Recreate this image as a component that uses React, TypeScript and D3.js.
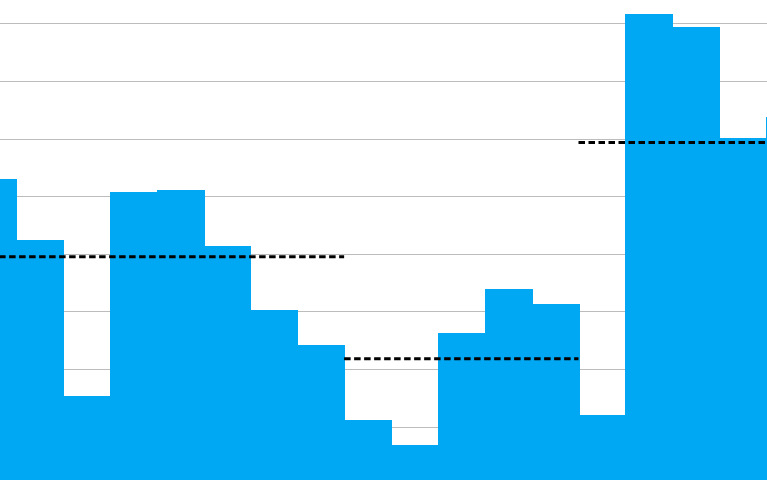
import { useEffect, useRef } from "react"
import * as d3 from "d3"

// bar heights (gridline step = 10)
const barValues = [52.9, 42.4, 15.4, 50.7, 51.0, 41.4, 30.2, 24.1, 11.1, 6.8, 26.2, 33.9, 31.25, 12.1, 81.6, 79.4, 60.1, 63.8]
// dashed group averages: [first bar, bar after last, value]
const meanFrom = [0, 8, 13]
const meanTo = [8, 13, 18]
const meanValues = [39.5, 21.8, 59.3]
const gridValues = [10, 20, 30, 40, 50, 60, 70, 80]

export default function App() {
  const svgRef = useRef<SVGSVGElement>(null)

  useEffect(() => {
    const svgEl = svgRef.current
    if (!svgEl) return
    const W = 767
    const H = 480
    const svg = d3.select(svgEl)
    svg.selectAll("*").remove()

    // the chart is cropped: first bar starts left of the frame, last one runs off the right
    const step = 46.875
    const x = d3.scaleLinear().domain([0, barValues.length]).range([-30.875, -30.875 + step * barValues.length])
    const y = d3.scaleLinear().domain([0, 80]).range([484.3, 23.3])

    svg.append("g").selectAll("line").data(gridValues).join("line")
      .attr("x1", 0).attr("x2", W)
      .attr("y1", d => Math.round(y(d)) + 0.5).attr("y2", d => Math.round(y(d)) + 0.5)
      .attr("stroke", "#bcbcbc").attr("stroke-width", 1)

    svg.append("g").attr("shape-rendering", "crispEdges")
      .selectAll("rect").data(barValues).join("rect")
      .attr("x", (_, i) => Math.round(x(i)))
      .attr("width", (_, i) => Math.round(x(i + 1)) - Math.round(x(i)) + 1)
      .attr("y", d => Math.round(y(d)))
      .attr("height", d => H + 10 - Math.round(y(d)))
      .attr("fill", "#00a8f3")

    svg.append("g").selectAll("line").data(meanValues).join("line")
      .attr("x1", (_, i) => x(meanFrom[i]))
      .attr("x2", (_, i) => x(meanTo[i]))
      .attr("y1", d => y(d)).attr("y2", d => y(d))
      .attr("stroke", "#000").attr("stroke-width", 3)
      .attr("stroke-dasharray", "6.5,3.5")

    svg.attr("viewBox", `0 0 ${W} ${H}`)
  }, [])

  return (
    <svg ref={svgRef} width={767} height={480}
      style={{ position: "absolute", left: 0, top: 0, background: "#fff" }} />
  )
}
